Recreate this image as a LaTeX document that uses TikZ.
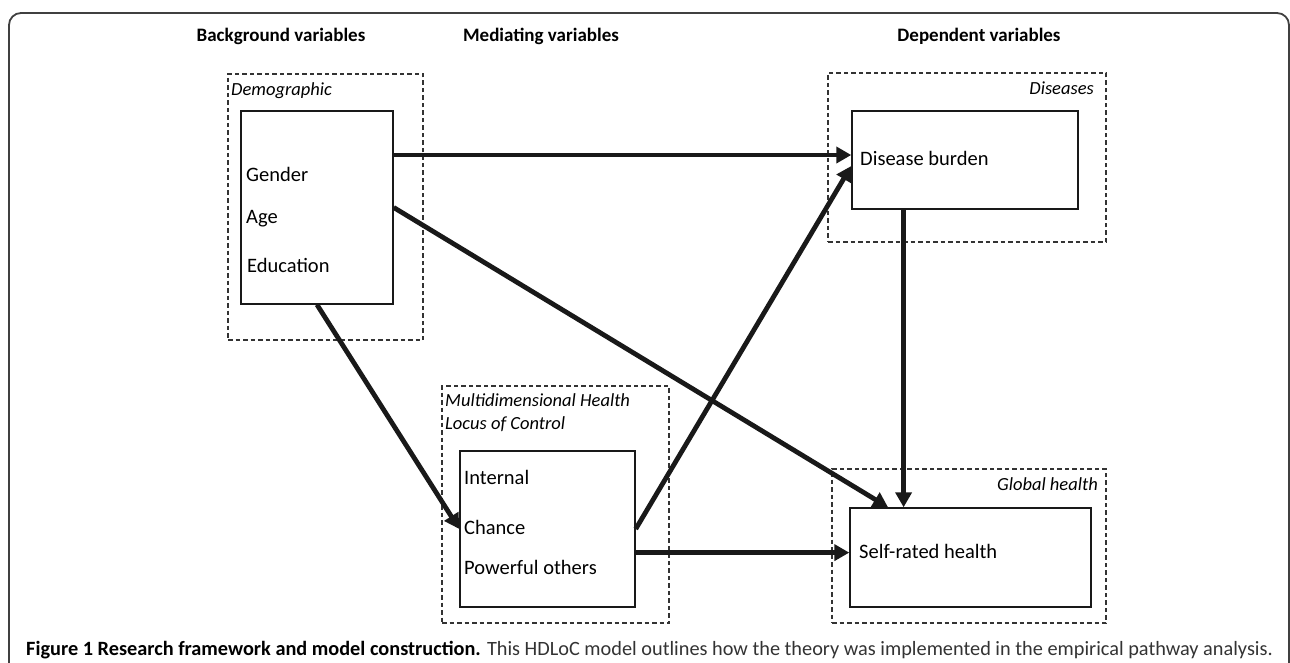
\documentclass[tikz,border=0pt]{standalone}
\usepackage{fontspec}
\setmainfont{Carlito}
\usetikzlibrary{arrows.meta,calc}

\begin{document}
\begin{tikzpicture}[
    x=1pt, y=-1pt,
    grp/.style={draw=black!80, line width=1.1pt, dash pattern=on 4.5pt off 3pt, inner sep=0pt},
    box/.style={draw=black!90, line width=1.4pt, inner sep=0pt},
    heading/.style={font=\fontsize{19}{23}\selectfont\bfseries, anchor=base, inner sep=0pt},
    tag/.style={font=\fontsize{18.5}{22}\selectfont\itshape, inner sep=0pt},
    var/.style={font=\fontsize{20.5}{24}\selectfont, anchor=base west, inner sep=0pt},
    link/.style={line width=4.8pt, draw=black!90, -{Triangle[length=15pt,width=16pt]}}
]
\useasboundingbox (0,0) rectangle (1290,663);
\draw[line width=1.8pt, black!75, rounded corners=12pt] (9,670) -- (9,13) -- (1289,13) -- (1289,670);

% column headings
\node[heading] (hback) at (281,42) {Background variables};
\node[heading] (hmed)  at (541,42) {Mediating variables};
\node[heading] (hdep)  at (979,42) {Dependent variables};

% groups
\node[grp, minimum width=195pt, minimum height=266pt] (demogrp) at (325.5,207) {};
\node[grp, minimum width=278pt, minimum height=169pt] (disgrp)  at (967,157.5) {};
\node[grp, minimum width=227pt, minimum height=237pt] (mhlcgrp) at (555.5,504.5) {};
\node[grp, minimum width=274pt, minimum height=154pt] (globgrp) at (969,546) {};

\node[tag, anchor=base west] (tdemo) at (231,96) {Demographic};
\node[tag, anchor=base east] (tdis)  at (1094,95) {Diseases};
\node[tag, anchor=base west] (tmhlc) at (445,406) {Multidimensional Health};
\node[tag, anchor=base west] (tloc)  at (445,429) {Locus of Control};
\node[tag, anchor=base east] (tglob) at (1098,490) {Global health};

% variable boxes
\node[box, minimum width=152pt, minimum height=193pt] (demo)   at (317,207.5) {};
\node[box, minimum width=226pt, minimum height=98pt]  (burden) at (965,160) {};
\node[box, minimum width=175pt, minimum height=156pt] (mhlc)   at (547.5,529) {};
\node[box, minimum width=241pt, minimum height=99pt]  (srh)    at (970.5,557.5) {};

\node[var] (gender) at (246,182) {Gender};
\node[var] (age)    at (246,224) {Age};
\node[var] (edu)    at (247,272) {Education};
\node[var] (dburd)  at (860,166) {Disease burden};
\node[var] (intern) at (464,484) {Internal};
\node[var] (chance) at (464,534) {Chance};
\node[var] (power)  at (464,574) {Powerful others};
\node[var] (selfr)  at (859,558) {Self-rated health};

% paths
\coordinate (d1) at ($(demo.north east)!.23!(demo.south east)$);
\coordinate (m1) at ($(mhlc.north east)!.65!(mhlc.south east)$);
\coordinate (b1) at ($(burden.south west)!.23!(burden.south east)$);
\draw[link] (d1) -- (d1 -| burden.west);
\draw[link] (demo.east) -- ($(srh.north west)!.16!(srh.north east)$);
\draw[link] (demo.south) -- (mhlc.west);
\draw[link] (mhlc.east) -- ($(burden.north west)!.56!(burden.south west)$);
\draw[link] (m1) -- (m1 -| srh.west);
\draw[link] (b1) -- (b1 |- srh.north);

\node[anchor=base west, inner sep=0pt, font=\fontsize{20.3}{24}\selectfont, text=black!80] (caption) at (26,655)
  {\textcolor{black}{\bfseries Figure 1 Research framework and model construction.} This HDLoC model outlines how the theory was implemented in the empirical pathway analysis.};
\end{tikzpicture}
\end{document}
